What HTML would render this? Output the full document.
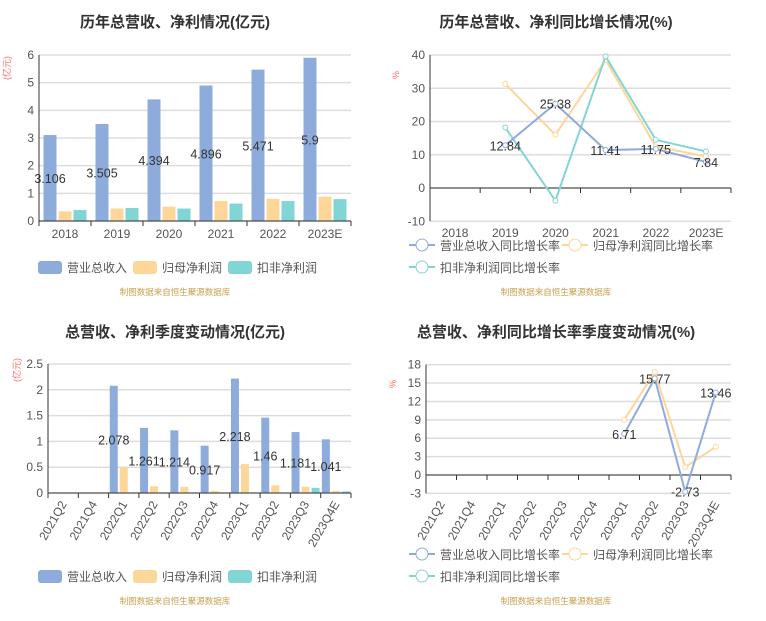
<!DOCTYPE html>
<html><head><meta charset="utf-8"><style>
body{margin:0;background:#fff;width:766px;height:616px;overflow:hidden}
svg{font-family:"Liberation Sans","Noto Sans CJK SC",sans-serif}
</style></head><body>
<svg id="s" width="766" height="616"></svg>
<script>
// Chart 1 data
const years=["2018","2019","2020","2021","2022","2023E"];
const rev1=[3.106,3.505,4.394,4.896,5.471,5.9];
const net1=[0.35,0.45,0.52,0.72,0.80,0.88];
const ded1=[0.40,0.47,0.45,0.63,0.72,0.79];
const ticks1=[0,1,2,3,4,5,6];
// Chart 2 data
const revG=[null,12.84,25.38,11.41,11.75,7.84];
const netG=[null,31.3,16.0,38.5,12.5,9.5];
const dedG=[null,18.2,-3.8,39.6,14.5,11.0];
const ticks2=[-10,0,10,20,30,40];
const labels2=[null,"12.84","25.38","11.41","11.75","7.84"];
// Chart 3 data
const quarters=["2021Q2","2021Q4","2022Q1","2022Q2","2022Q3","2022Q4","2023Q1","2023Q2","2023Q3","2023Q4E"];
const rev3=[0,0,2.078,1.261,1.214,0.917,2.218,1.46,1.181,1.041];
const net3=[0,0,0.50,0.13,0.12,0.04,0.56,0.15,0.12,0.04];
const ded3=[0,0,0,0,0,0,0,0,0.10,0.03];
const ticks3=[0,0.5,1,1.5,2,2.5];
// Chart 4 data
const revQ=[null,null,null,null,null,null,6.71,15.77,-2.73,13.46];
const netQ=[null,null,null,null,null,null,9.0,16.8,1.3,4.6];
const ticks4=[-3,0,3,6,9,12,15,18];

const S=document.getElementById('s');const NS='http://www.w3.org/2000/svg';
function mk(t,a,txt){const e=document.createElementNS(NS,t);for(const k in a)e.setAttribute(k,a[k]);if(txt!=null)e.textContent=txt;S.appendChild(e);return e;}
const C={b:'#8eacdb',o:'#fdd79a',t:'#82d5d5'};
function title(x,y,t){const e=mk('text',{x:x,y:y,'text-anchor':'middle','font-size':15,'font-weight':'bold',fill:'#333'},t);

}
function src(x,y){const e=mk('text',{x:x,y:y,'text-anchor':'middle','font-size':8.5,fill:'#c9a050'},'制图数据来自恒生聚源数据库');

}
function yAxis(x0,x1,ys,ticks,fmt){ticks.forEach(v=>{const y=ys(v);
const g=mk('line',{x1:x0,x2:x1,y1:y,y2:y,stroke:'#ddd','stroke-width':1.5});


const t=mk('text',{x:x0-5,y:y+4,'text-anchor':'end','font-size':12,fill:'#555'},fmt?fmt(v):v);

});
const a=mk('line',{x1:x0,x2:x0,y1:ys(ticks[ticks.length-1]),y2:ys(ticks[0]),stroke:'#333'});

}
function xAxis(x0,x1,y,n,cats,rot,ly){const w=(x1-x0)/n;
const a=mk('line',{x1:x0,x2:x1,y1:y,y2:y,stroke:'#333'});


for(let i=0;i<=n;i++){const tk=mk('line',{x1:x0+i*w,x2:x0+i*w,y1:y,y2:y+5,stroke:'#333'});

}
cats.forEach((c,i)=>{const cx=x0+(i+0.5)*w;let t;
if(rot){t=mk('text',{x:cx+4,y:ly,'text-anchor':'end','font-size':12,fill:'#555',transform:`rotate(-60 ${cx+4} ${ly})`},c);}
else t=mk('text',{x:cx,y:ly,'text-anchor':'middle','font-size':12,fill:'#555'},c);

});}
function unit(x,y,t){const e=mk('text',{x:x,y:y,'font-size':9,fill:'#f66','text-anchor':'middle',transform:`rotate(-90 ${x} ${y})`},t);

}
function bars(x0,x1,ys,y0,series,cols,bw,labels){const n=series[0].length,w=(x1-x0)/n;
const tot=bw*series.length+2*(series.length-1);
series.forEach((arr,si)=>arr.forEach((v,i)=>{if(!v)return;const bx=x0+i*w+(w-tot)/2+si*(bw+2);
const r=mk('rect',{x:bx,y:ys(v),width:bw,height:y0-ys(v),fill:cols[si]});


if(si==0&&labels){const t=mk('text',{x:bx+bw/2,y:(ys(v)+y0)/2+5,'text-anchor':'middle','font-size':12.5,fill:'#333'},String(v));

}}));}
function line(x0,x1,ys,arr,col,labels){const n=arr.length,w=(x1-x0)/n;let pts=[];
arr.forEach((v,i)=>{if(v!=null)pts.push([x0+(i+0.5)*w,ys(v),v]);});
const p=mk('polyline',{points:pts.map(p=>p[0]+','+p[1]).join(' '),fill:'none',stroke:col,'stroke-width':2});


pts.forEach((q,k)=>{const c=mk('circle',{cx:q[0],cy:q[1],r:2.5,fill:'#fff',stroke:col,'stroke-width':1});


if(labels){const t=mk('text',{x:q[0],y:q[1]+5,'text-anchor':'middle','font-size':12.5,fill:'#333'},labels(q[2]));

}});}
function legBar(x,y,cols,names){let cx=x;names.forEach((nm,i)=>{const r=mk('rect',{x:cx,y:y-5,width:24,height:13,rx:3,fill:cols[i]});


const t=mk('text',{x:cx+29,y:y+6,'font-size':12,fill:'#555'},nm);

cx+=95;});}
function legLine(items){items.forEach(it=>{const l=mk('line',{x1:it[0],x2:it[0]+26,y1:it[1],y2:it[1],stroke:it[2],'stroke-width':2});


const c=mk('circle',{cx:it[0]+13,cy:it[1],r:6,fill:'#fff',stroke:it[2]});


const t=mk('text',{x:it[0]+31,y:it[1]+5,'font-size':12,fill:'#555'},it[3]);

});}

// Chart 1
title(175,27,'历年总营收、净利情况(亿元)');
const ys1=v=>221-v*27.67;
yAxis(39,351,ys1,ticks1);unit(10,68,'(亿元)');
bars(39,351,ys1,221,[rev1,net1,ded1],[C.b,C.o,C.t],13,true);
xAxis(39,351,221,6,years,false,238);
legBar(38,266,[C.b,C.o,C.t],['营业总收入','归母净利润','扣非净利润']);
src(175,295);

// Chart 2
title(556,27,'历年总营收、净利同比增长情况(%)');
const ys2=v=>188-v*3.325;
yAxis(430,731,ys2,ticks2);unit(399,75,'%');
xAxis(430,731,188,6,[],false,0);
years.forEach((c,i)=>{const t=mk('text',{x:430+(i+0.5)*50.2,y:237,'text-anchor':'middle','font-size':12,fill:'#555'},c);

});
line(430,731,ys2,netG,C.o);
line(430,731,ys2,dedG,C.t);
line(430,731,ys2,revG,C.b,v=>String(v));
legLine([[409,245,C.b,'营业总收入同比增长率'],[562,245,C.o,'归母净利润同比增长率'],[409,267,C.t,'扣非净利润同比增长率']]);
src(556,295);

// Chart 3
title(175,337,'总营收、净利季度变动情况(亿元)');
const ys3=v=>493-v*51.6;
yAxis(48,351,ys3,ticks3);unit(20,370,'(亿元)');
bars(48,351,ys3,493,[rev3,net3,ded3],[C.b,C.o,C.t],8,true);
xAxis(48,351,493,10,quarters,true,504);
legBar(38,575,[C.b,C.o,C.t],['营业总收入','归母净利润','扣非净利润']);
src(175,604);

// Chart 4
title(556,337,'总营收、净利同比增长率季度变动情况(%)');
const ys4=v=>475-v*6.13;
yAxis(426,731,ys4,ticks4);unit(396,384,'%');
xAxis(426,731,475,10,quarters,true,504);
line(426,731,ys4,netQ,C.o);
line(426,731,ys4,revQ,C.b,v=>String(v));
legLine([[409,554,C.b,'营业总收入同比增长率'],[562,554,C.o,'归母净利润同比增长率'],[409,576,C.t,'扣非净利润同比增长率']]);
src(556,604);
</script></body></html>
